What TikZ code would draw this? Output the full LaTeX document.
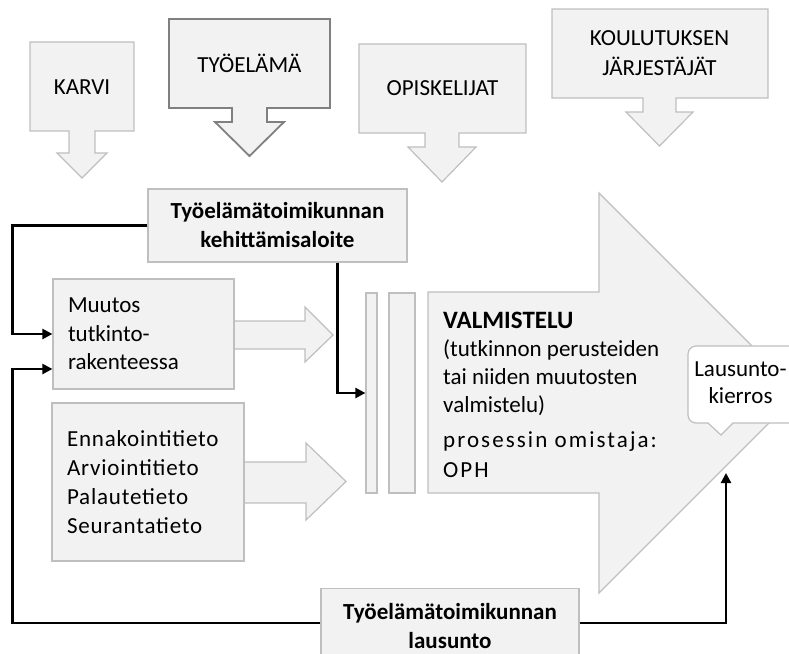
\documentclass[tikz,border=0pt]{standalone}
\usepackage{fontspec}
\setmainfont{Carlito}
\newfontfamily\widefont[LetterSpace=9]{Carlito}
\newfontfamily\infofont[LetterSpace=3.5]{Carlito}
\usetikzlibrary{arrows.meta, positioning, calc}

\definecolor{boxfill}{HTML}{F2F2F2}
\definecolor{boxline}{HTML}{BFBFBF}
\definecolor{darkline}{HTML}{808080}

\tikzset{
  blockshape/.style={fill=boxfill, draw=boxline, line width=1.2pt},
  box/.style={blockshape, rectangle, inner sep=0pt},
  flow/.style={line width=2.3pt, -{Triangle[length=10pt,width=10pt]}},
}

\begin{document}
\begin{tikzpicture}[x=1pt, y=-1pt, font=\fontsize{23}{28.5}\selectfont]
\useasboundingbox (0,0) rectangle (789,653);

% KARVI
\draw[blockshape] (30,42) -- (134,42) -- (134,131) -- (95,131) -- (95,153) -- (107,153) -- (82,178)
  -- (57,153) -- (69,153) -- (69,131) -- (30,131) -- cycle;
\node (karvi) at (82,87) {KARVI};
% Tyoelama
\draw[blockshape, draw=darkline, line width=1.8pt] (169,19) -- (330,19) -- (330,108) -- (267,108) -- (267,122)
  -- (284,122) -- (249.5,156) -- (215,122) -- (232,122) -- (232,108) -- (169,108) -- cycle;
\node (tyoelama) at (249.5,63) {TYÖELÄMÄ};
% Opiskelijat
\draw[blockshape] (359,44) -- (526,44) -- (526,133) -- (459,133) -- (459,147) -- (476,147) -- (442,182)
  -- (408,147) -- (425,147) -- (425,133) -- (359,133) -- cycle;
\node (opiskelijat) at (442.5,88) {OPISKELIJAT};
% Koulutuksen jarjestajat
\draw[blockshape] (552,9) -- (768,9) -- (768,98) -- (676,98) -- (676,112) -- (693,112) -- (659.5,146)
  -- (626,112) -- (643,112) -- (643,98) -- (552,98) -- cycle;
\node[align=center] (jarjestajat) at (659.5,53) {KOULUTUKSEN\\[1.5pt]JÄRJESTÄJÄT};

% block arrows behind the input boxes
\draw[blockshape] (200,321) -- (305,321) -- (305,307) -- (333,335) -- (305,362) -- (305,349) -- (200,349) -- cycle;
\draw[blockshape] (200,462) -- (306,462) -- (306,443) -- (346,481.5) -- (306,520) -- (306,503) -- (200,503) -- cycle;

% input boxes
\node[box, minimum width=259pt, minimum height=73pt, align=center, font=\fontsize{23}{29}\selectfont\bfseries]
  (kehitys) at (277.5,225.5) {Työelämätoimikunnan\\kehittämisaloite};
\node[box, minimum width=181pt, minimum height=110pt, text width=151pt, inner xsep=15pt, align=left]
  (muutos) at (143.5,334) {Muutos\\tutkinto-\\rakenteessa};
\node[box, minimum width=192pt, minimum height=158pt, text width=162pt, inner xsep=15pt, align=left,
  font=\infofont\fontsize{23}{29}\selectfont]
  (tieto) at (148,482) {Ennakointitieto\\Arviointitieto\\Palautetieto\\Seurantatieto};

% bars
\node[box, minimum width=11pt, minimum height=200pt] (bar1) at (371.5,393) {};
\node[box, minimum width=26pt, minimum height=200pt] (bar2) at (402,393) {};

% Valmistelu
\draw[blockshape] (428,292) -- (599,292) -- (599,193) -- (799,393) -- (599,593) -- (599,493) -- (428,493) -- cycle;
\node[anchor=west, inner sep=0pt, font=\fontsize{25}{30}\selectfont\bfseries] (valmistelu) at (443,320) {VALMISTELU};
\node[anchor=west, inner sep=0pt, align=left, font=\fontsize{23}{28}\selectfont]
  (perusteet) at (443,378) {(tutkinnon perusteiden\\tai niiden muutosten\\valmistelu)};
\node[anchor=west, inner sep=0pt, align=left, font=\widefont\fontsize{23}{30}\selectfont]
  (omistaja) at (443,455) {prosessin omistaja:\\OPH};

% Lausuntokierros
\draw[fill=white, draw=boxline, line width=1.2pt, rounded corners=8pt] (744,346) -- (800,346) -- (800,423)
  [sharp corners] -- (733,423) -- (721,435) -- (708,423) [rounded corners=8pt] -- (688,423) -- (688,346) -- cycle;
\node[align=center, font=\fontsize{23}{27}\selectfont] (kierros) at (740.5,383) {Lausunto-\\kierros};
\coordinate (kierrosin) at (726,473);

% Lausunto
\node[box, anchor=north, minimum width=258pt, minimum height=75pt, align=center, font=\fontsize{23}{29}\selectfont\bfseries]
  (lausunto) at (450,588) {Työelämätoimikunnan\\lausunto};

% connectors
\draw[flow] (kehitys.west) -- ++(-135,0) |- (muutos.west);
\draw[flow] ($(kehitys.south)+(60,0)$) |- (bar1.west);
\draw[flow] ($(lausunto.north west)+(0,35)$) -- ++(-308,0) |- ($(muutos.west)+(0,35)$);
\draw[flow] ($(lausunto.north east)+(0,35)$) -| (kierrosin);
\end{tikzpicture}
\end{document}
